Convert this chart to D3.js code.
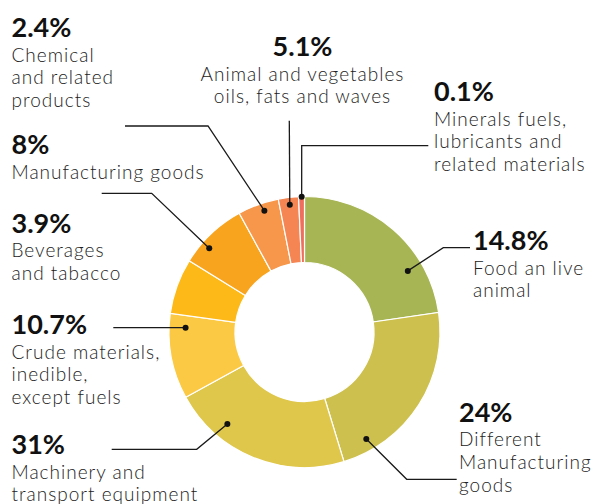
<!DOCTYPE html>
<html>
<head>
<meta charset="utf-8">
<script src="https://cdn.jsdelivr.net/npm/d3@7"></script>
<style>
  body { margin: 0; background: #fff; }
  svg { display: block; }
  .pct { font-family: Lato, sans-serif; font-weight: 700; font-size: 27px; fill: #111; }
  .desc { font-family: Lato, sans-serif; font-weight: 300; font-size: 19px; letter-spacing: 1px; fill: #222; }
</style>
</head>
<body>
<div class="container"></div>
<script>
var WIDTH = 595, HEIGHT = 504;
var CX = 304.5, CY = 332, R_OUT = 135.5, R_IN = 69.5;

// data, clockwise from 12 o'clock
var categories = ["Food an live animal", "Different Manufacturing goods", "Machinery and transport equipment",
  "Crude materials, inedible, except fuels", "Beverages and tabacco", "Manufacturing goods",
  "Chemical and related products", "Animal and vegetables oils, fats and waves",
  "Minerals fuels, lubricants and related materials"];
var pctLabels = ["14.8%", "24%", "31%", "10.7%", "3.9%", "8%", "2.4%", "5.1%", "0.1%"];
// slice sizes as drawn in the picture (they do not follow the printed numbers)
var shares = [22.7, 22.6, 21.7, 10.2, 6.6, 8.2, 4.9, 2.4, 0.7];
var labelLines = [["Food an live", "animal"], ["Different", "Manufacturing", "goods"],
  ["Machinery and", "transport equipment"], ["Crude materials,", "inedible,", "except fuels"],
  ["Beverages", "and tabacco"], ["Manufacturing goods"], ["Chemical", "and related", "products"],
  ["Animal and vegetables", "oils, fats and waves"], ["Minerals fuels,", "lubricants and", "related materials"]];
var colors = ["#a8b555", "#cdc04e", "#dfc74b", "#fbc944", "#fdb918", "#f8a41f", "#f7974b", "#f58552", "#ef6f5e"];

// label placement: text anchor, leader dot (angle deg, radius), elbow, end
var layout = [
  {x: 473, y: 250, anchor: "start", dot: [59.4, 120], pts: [[443.3, 247.7], [470, 247.7]]},
  {x: 459, y: 421.7, anchor: "start", dot: [150, 123.6], pts: [[406.7, 479.3], [456.7, 479.3]]},
  {x: 11.5, y: 454, anchor: "start", dot: [220, 120], pts: [[196.7, 449.3], [111.7, 449.3]]},
  {x: 11.5, y: 334, anchor: "start", dot: [272.1, 119], pts: [[113.3, 327.7]]},
  {x: 11.5, y: 232.7, anchor: "start", dot: null, pts: []},
  {x: 11.5, y: 154, anchor: "start", dot: [311.3, 126.8], pts: [[151.7, 193.3], [101.7, 193.3]]},
  {x: 11.5, y: 37, anchor: "start", dot: [341.7, 127.8], pts: [[208, 126], [125, 126]]},
  {x: 302.5, y: 56, anchor: "middle", dot: [353.4, 128], pts: [[289.3, 120.7]]},
  {x: 434, y: 101, anchor: "start", dot: [358.8, 135.3], pts: [[301.7, 145.7], [428.3, 145.7]]}
];

var svg = d3.select(".container").append("svg")
  .attr("width", WIDTH).attr("height", HEIGHT);

var pie = d3.pie().sort(null).value(function(d){ return d; });
var arc = d3.arc().innerRadius(R_IN).outerRadius(R_OUT);

var g = svg.append("g").attr("transform", "translate(" + CX + "," + CY + ")");
g.selectAll("path").data(pie(shares)).enter().append("path")
  .attr("d", arc)
  .attr("fill", function(d, i){ return colors[i]; })
  .attr("stroke", "#fff")
  .attr("stroke-width", 1.2);

var polar = function(deg, r){
  var a = deg * Math.PI / 180;
  return [CX + r * Math.sin(a), CY - r * Math.cos(a)];
};

var leaders = svg.append("g");
layout.forEach(function(l){
  if (!l.dot) return;
  var p = polar(l.dot[0], l.dot[1]);
  leaders.append("polyline")
    .attr("points", [p].concat(l.pts).map(function(q){ return q.join(","); }).join(" "))
    .attr("fill", "none").attr("stroke", "#1a1a1a").attr("stroke-width", 1.3);
  leaders.append("circle").attr("cx", p[0]).attr("cy", p[1]).attr("r", 3).attr("fill", "#111");
});

var labels = svg.append("g");
categories.forEach(function(c, i){
  var l = layout[i];
  labels.append("text").attr("class", "pct")
    .attr("x", l.x).attr("y", l.y).attr("text-anchor", l.anchor).text(pctLabels[i]);
  labelLines[i].forEach(function(line, j){
    labels.append("text").attr("class", "desc")
      .attr("x", l.x).attr("y", l.y + 24.5 + j * 22.7).attr("text-anchor", l.anchor).text(line);
  });
});
</script>
</body>
</html>
